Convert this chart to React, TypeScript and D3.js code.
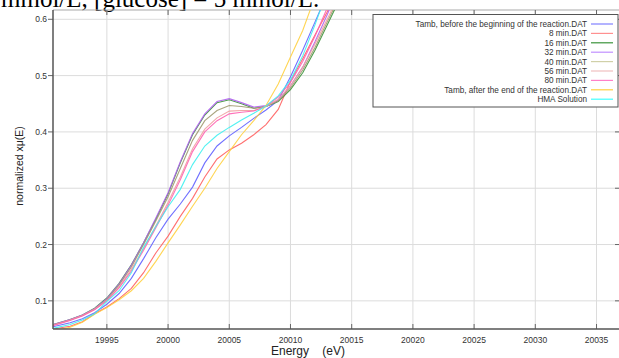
import React from "react";
import * as d3 from "d3";

const energies = [19990.6, 19992, 19993, 19994, 19995, 19996, 19997, 19998, 19999, 20000, 20001, 20002, 20003, 20004, 20005, 20006, 20007, 20008, 20009, 20010, 20011, 20012, 20013, 20014];

const tambBefore = [0.054, 0.061, 0.068, 0.079, 0.094, 0.113, 0.14, 0.175, 0.212, 0.245, 0.272, 0.302, 0.345, 0.375, 0.393, 0.408, 0.424, 0.439, 0.456, 0.498, 0.545, 0.595, 0.645, 0.7];
const min8 = [0.05, 0.055, 0.063, 0.077, 0.089, 0.104, 0.122, 0.15, 0.185, 0.215, 0.25, 0.282, 0.32, 0.352, 0.368, 0.38, 0.395, 0.413, 0.44, 0.49, 0.53, 0.572, 0.613, 0.655];
const min16 = [0.058, 0.067, 0.075, 0.087, 0.105, 0.131, 0.164, 0.203, 0.245, 0.29, 0.345, 0.395, 0.43, 0.452, 0.457, 0.45, 0.442, 0.445, 0.454, 0.475, 0.505, 0.545, 0.59, 0.635];
const min32 = [0.058, 0.067, 0.075, 0.086, 0.104, 0.13, 0.163, 0.203, 0.247, 0.292, 0.347, 0.397, 0.432, 0.454, 0.459, 0.452, 0.444, 0.447, 0.456, 0.482, 0.515, 0.56, 0.608, 0.66];
const min40 = [0.057, 0.066, 0.074, 0.085, 0.102, 0.128, 0.16, 0.2, 0.242, 0.285, 0.335, 0.385, 0.42, 0.438, 0.447, 0.445, 0.442, 0.445, 0.455, 0.478, 0.51, 0.55, 0.595, 0.64];
const min56 = [0.057, 0.066, 0.074, 0.085, 0.101, 0.125, 0.156, 0.193, 0.233, 0.275, 0.32, 0.37, 0.405, 0.425, 0.437, 0.438, 0.438, 0.445, 0.458, 0.482, 0.515, 0.556, 0.6, 0.645];
const min80 = [0.056, 0.065, 0.073, 0.084, 0.1, 0.123, 0.153, 0.19, 0.23, 0.27, 0.315, 0.365, 0.4, 0.42, 0.432, 0.435, 0.437, 0.446, 0.462, 0.488, 0.525, 0.57, 0.62, 0.67];
const tambAfter = [0.047, 0.053, 0.062, 0.076, 0.088, 0.102, 0.118, 0.14, 0.17, 0.203, 0.235, 0.268, 0.3, 0.335, 0.365, 0.395, 0.42, 0.447, 0.485, 0.533, 0.58, 0.64, 0.7, 0.76];
const hma = [0.051, 0.058, 0.066, 0.077, 0.099, 0.118, 0.15, 0.195, 0.232, 0.267, 0.298, 0.342, 0.375, 0.394, 0.408, 0.421, 0.433, 0.446, 0.464, 0.492, 0.535, 0.59, 0.65, 0.71];

const seriesNames = [
  "Tamb,  before the beginning of the reaction.DAT",
  "8 min.DAT",
  "16 min.DAT",
  "32 min.DAT",
  "40 min.DAT",
  "56 min.DAT",
  "80 min.DAT",
  "Tamb, after the end of the reaction.DAT",
  "HMA Solution",
];
const seriesValues = [tambBefore, min8, min16, min32, min40, min56, min80, tambAfter, hma];
const seriesColors = ["#6060ff", "#ff6060", "#3a943a", "#b060f0", "#a09a70", "#f0a0a0", "#ff60b0", "#ffd040", "#40f0f0"];
const legendColors = ["#8080ff", "#ff9090", "#3a943a", "#c090ff", "#d0d0a8", "#f0c0c0", "#ff80c8", "#ffd040", "#40ffff"];

const xTicks = [19995, 20000, 20005, 20010, 20015, 20020, 20025, 20030, 20035];
const yTicks = [0.1, 0.2, 0.3, 0.4, 0.5, 0.6];

export default function App() {
  const W = 619, H = 358;
  const left = 53, right = 621, top = 10, bottom = 329;
  const x = d3.scaleLinear().domain([19990.6, 20037]).range([left, right]);
  const y = d3.scaleLinear().domain([0.05, 0.6165]).range([bottom, top]);
  const line = d3.line<number>().x((_, i) => x(energies[i])).y((d) => y(d));
  const font = "'Liberation Sans', Arial, sans-serif";

  return (
    <svg width={W} height={H} style={{ position: "absolute", left: 0, top: 0, background: "#fff" }}>
      <rect x={0} y={0} width={W} height={H} fill="#fff" />
      <text x={1} y={7} fontFamily="'Liberation Serif', 'Times New Roman', serif" fontSize={25} fill="#000">
        mmol/L, [glucose] = 5 mmol/L.
      </text>
      <defs>
        <clipPath id="plotclip">
          <rect x={left} y={top} width={right - left} height={bottom - top} />
        </clipPath>
      </defs>
      {/* grid */}
      {xTicks.map((t) => (
        <line key={"gx" + t} x1={x(t)} x2={x(t)} y1={top} y2={bottom} stroke="#dcdcdc" strokeWidth={1} />
      ))}
      {yTicks.map((t) => (
        <line key={"gy" + t} x1={left} x2={right} y1={y(t)} y2={y(t)} stroke="#dcdcdc" strokeWidth={1} />
      ))}
      {/* frame */}
      <line x1={left} x2={right} y1={top} y2={top} stroke="#aaa" strokeWidth={1.2} />
      <line x1={right - 1} x2={right - 1} y1={top} y2={bottom} stroke="#aaa" strokeWidth={1.2} />
      {xTicks.map((t) => (
        <g key={"tx" + t}>
          <line x1={x(t)} x2={x(t)} y1={bottom} y2={bottom - 5} stroke="#666" strokeWidth={1} />
          <line x1={x(t)} x2={x(t)} y1={top} y2={top + 5} stroke="#666" strokeWidth={1} />
          <text x={x(t)} y={343} textAnchor="middle" fontFamily={font} fontSize={8.5} fill="#333">
            {t}
          </text>
        </g>
      ))}
      {yTicks.map((t) => (
        <g key={"ty" + t}>
          <line x1={left - 5} x2={left} y1={y(t)} y2={y(t)} stroke="#666" strokeWidth={1} />
          <line x1={right - 6} x2={right} y1={y(t)} y2={y(t)} stroke="#666" strokeWidth={1} />
          <text x={47} y={y(t) + 3} textAnchor="end" fontFamily={font} fontSize={8.5} fill="#333">
            {t.toFixed(1)}
          </text>
        </g>
      ))}
      {/* curves */}
      <g clipPath="url(#plotclip)">
        {seriesValues.map((vals, i) => (
          <path key={"s" + i} d={line(vals) || ""} fill="none" stroke={seriesColors[i]} strokeWidth={1.1} strokeOpacity={0.9} />
        ))}
      </g>
      <line x1={left} x2={left} y1={top} y2={bottom} stroke="#555" strokeWidth={1.5} />
      <line x1={left} x2={right} y1={bottom} y2={bottom} stroke="#555" strokeWidth={1.5} />
      {/* axis labels */}
      <text x={308} y={355} textAnchor="middle" fontFamily={font} fontSize={12} fill="#222" style={{ whiteSpace: "pre" }}>
        {"Energy    (eV)"}
      </text>
      <text transform={`translate(23, 166) rotate(-90)`} textAnchor="middle" fontFamily={font} fontSize={10.5} fill="#222">
        normalized xμ(E)
      </text>
      {/* legend */}
      <rect x={373} y={14.5} width={245} height={92.5} fill="#fff" stroke="#555" strokeWidth={1} />
      {seriesNames.map((n, i) => (
        <g key={"lg" + i}>
          <text x={587} y={24 + i * 9.4 + 3} textAnchor="end" fontFamily={font} fontSize={8.2} fill="#333">
            {n}
          </text>
          <line x1={591} x2={613} y1={24 + i * 9.4} y2={24 + i * 9.4} stroke={legendColors[i]} strokeWidth={1.2} />
        </g>
      ))}
    </svg>
  );
}
